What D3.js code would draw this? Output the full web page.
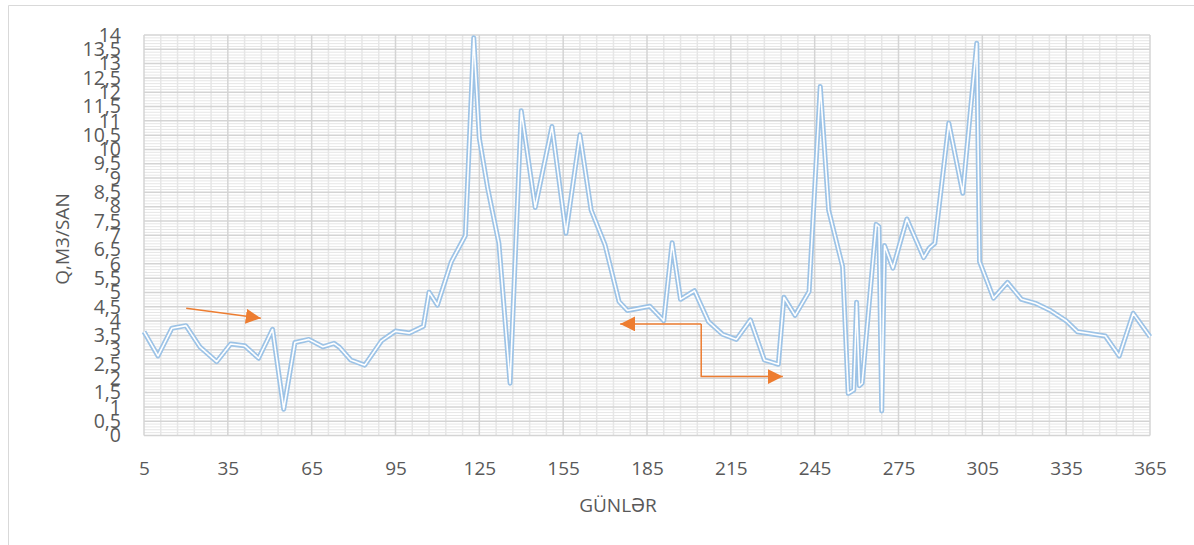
<!DOCTYPE html>
<html>
<head>
<meta charset="utf-8">
<script src="https://cdn.jsdelivr.net/npm/d3@7"></script>
<style>
  body { margin: 0; background: #fff; }
  svg { display: block; }
  text { font-family: "Open Sans", "Noto Sans", sans-serif; fill: #595959; }
</style>
</head>
<body>
<svg id="chart" width="1194" height="545"></svg>
<script>
// Daily discharge values
var days = [5, 10, 15, 20, 25, 31, 36, 41, 46, 51, 55, 59, 64, 69, 73, 75, 79, 84, 90, 95,
    100, 105, 107, 110, 115, 120, 123, 125, 128, 132, 136, 140, 145, 151, 156, 161, 165, 170, 175, 178,
    186, 191, 194, 197, 202, 207, 212, 217, 222, 227, 232, 234, 238, 243, 247, 250, 255, 257, 259, 260,
    261, 262, 267, 268, 269, 270, 273, 278, 284, 286, 288, 293, 298, 303, 304, 309, 314, 319, 324, 329,
    335, 339, 349, 354, 359, 365];
var flow = [3.63, 2.78, 3.75, 3.84, 3.1, 2.58, 3.2, 3.14, 2.7, 3.71, 0.92, 3.25, 3.36, 3.1, 3.22, 3.08, 2.64, 2.46, 3.31, 3.65,
    3.58, 3.82, 5.01, 4.56, 6.08, 6.99, 13.9, 10.39, 8.64, 6.72, 1.83, 11.35, 7.97, 10.8, 7.07, 10.51, 7.88, 6.66, 4.68, 4.37,
    4.52, 4.01, 6.74, 4.76, 5.06, 3.98, 3.54, 3.36, 4.04, 2.64, 2.49, 4.83, 4.2, 5.03, 12.2, 7.88, 5.9, 1.47, 1.59, 4.66,
    1.74, 1.83, 7.38, 7.3, 0.86, 6.64, 5.85, 7.57, 6.22, 6.55, 6.72, 10.92, 8.47, 13.71, 6.08, 4.8, 5.35, 4.76, 4.62, 4.39,
    4.01, 3.63, 3.48, 2.78, 4.27, 3.45];

var xTicks = d3.range(5, 366, 30);
var yTicks = d3.range(0, 14.01, 0.5);

// orange annotation arrows, in data units [day, value]
var arrowOne = [[20.1, 4.45], [46.8, 4.1]];
var arrowElbowLeft = [[204.4, 3.9], [175.4, 3.9]];
var arrowElbowRight = [[204.4, 3.9], [204.4, 2.06], [233.6, 2.06]];

var svg = d3.select('#chart');
var margin = {top: 35, right: 44, bottom: 109.5, left: 144};
var width = 1194 - margin.left - margin.right;
var height = 545 - margin.top - margin.bottom;

var x = d3.scaleLinear().domain([5, 365]).range([margin.left, margin.left + width]);
var y = d3.scaleLinear().domain([0, 14]).range([margin.top + height, margin.top]);

// page frame
svg.append('line').attr('x1', 8.5).attr('x2', 1194).attr('y1', 5.5).attr('y2', 5.5)
    .style('stroke', '#d9d9d9');
svg.append('line').attr('x1', 8.5).attr('x2', 8.5).attr('y1', 5.5).attr('y2', 545)
    .style('stroke', '#d9d9d9');

var grid = svg.append('g');

// minor grid
var minorY = d3.range(0, 14.001, 0.1).filter(function(d) { return Math.abs(d * 2 - Math.round(d * 2)) > 0.01; });
grid.selectAll('.minor-y').data(minorY).enter().append('line')
    .attr('x1', x(5)).attr('x2', x(365))
    .attr('y1', function(d) { return y(d); }).attr('y2', function(d) { return y(d); })
    .style('stroke', '#e6e6e6').style('stroke-width', 1);

var minorX = d3.range(5, 366, 6).filter(function(d) { return (d - 5) % 30 !== 0; });
grid.selectAll('.minor-x').data(minorX).enter().append('line')
    .attr('y1', y(0)).attr('y2', y(14))
    .attr('x1', function(d) { return x(d); }).attr('x2', function(d) { return x(d); })
    .style('stroke', '#e6e6e6').style('stroke-width', 1.5);

// major grid
grid.selectAll('.major-y').data(yTicks).enter().append('line')
    .attr('x1', x(5)).attr('x2', x(365))
    .attr('y1', function(d) { return y(d); }).attr('y2', function(d) { return y(d); })
    .style('stroke', '#d4d4d4').style('stroke-width', 1.5);

grid.selectAll('.major-x').data(xTicks).enter().append('line')
    .attr('y1', y(0)).attr('y2', y(14))
    .attr('x1', function(d) { return x(d); }).attr('x2', function(d) { return x(d); })
    .style('stroke', '#d4d4d4').style('stroke-width', 1.5);

// axes
var yAxis = svg.append('g')
    .attr('transform', 'translate(' + margin.left + ',0)')
    .call(d3.axisLeft(y).tickValues(yTicks).tickSize(0).tickPadding(23)
        .tickFormat(function(d) { return String(d).replace('.', ','); }));
yAxis.select('.domain').remove();
yAxis.selectAll('text').style('font-size', '19.5px').style('fill', '#595959')
    .style('font-family', '"Open Sans", sans-serif');

var xAxis = svg.append('g')
    .attr('transform', 'translate(0,' + (margin.top + height) + ')')
    .call(d3.axisBottom(x).tickValues(xTicks).tickSize(0).tickPadding(26));
xAxis.select('.domain').remove();
xAxis.selectAll('text').style('font-size', '19px').style('fill', '#595959')
    .style('font-family', '"Open Sans", sans-serif');

svg.append('text')
    .attr('x', 618).attr('y', 512)
    .attr('text-anchor', 'middle')
    .style('font-size', '19px')
    .text('GÜNLƏR');

svg.append('text')
    .attr('transform', 'translate(69,239) rotate(-90)')
    .attr('text-anchor', 'middle')
    .style('font-size', '19px')
    .text('Q,M3/SAN');

// the series, drawn as a double line
var points = days.map(function(d, i) { return [d, flow[i]]; });
var line = d3.line()
    .x(function(d) { return x(d[0]); })
    .y(function(d) { return y(d[1]); });

svg.append('path')
    .datum(points)
    .attr('d', line)
    .style('fill', 'none')
    .style('stroke', '#9dc3e6')
    .style('stroke-width', 5)
    .style('stroke-linejoin', 'round');
svg.append('path')
    .datum(points)
    .attr('d', line)
    .style('fill', 'none')
    .style('stroke', '#ffffff')
    .style('stroke-width', 1.6)
    .style('stroke-linejoin', 'round');

// arrows
var defs = svg.append('defs');
defs.append('marker')
    .attr('id', 'arrowhead')
    .attr('viewBox', '0 0 10 10')
    .attr('refX', 10)
    .attr('refY', 5)
    .attr('markerUnits', 'userSpaceOnUse')
    .attr('markerWidth', 15)
    .attr('markerHeight', 15)
    .attr('orient', 'auto')
    .append('path')
    .attr('d', 'M 0 0 L 10 5 L 0 10 Z')
    .attr('fill', '#ed7d31');

var arrowLine = d3.line()
    .x(function(d) { return x(d[0]); })
    .y(function(d) { return y(d[1]); });

[arrowOne, arrowElbowLeft, arrowElbowRight].forEach(function(pts) {
    svg.append('path')
        .attr('d', arrowLine(pts))
        .style('fill', 'none')
        .style('stroke', '#ed7d31')
        .style('stroke-width', 1.5)
        .attr('marker-end', 'url(#arrowhead)');
});
</script>
</body>
</html>
